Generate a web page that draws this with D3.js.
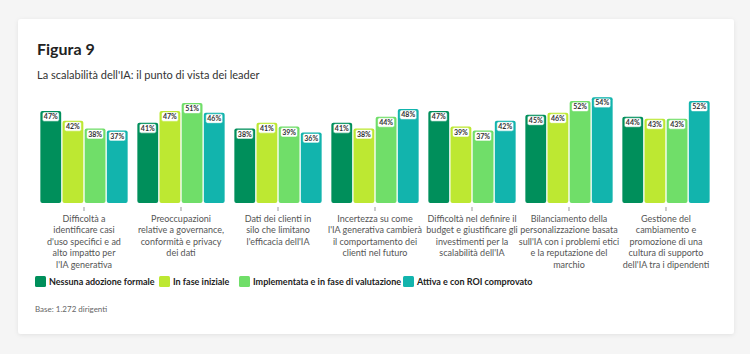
<!DOCTYPE html>
<html>
<head>
<meta charset="utf-8">
<script src="https://cdn.jsdelivr.net/npm/d3@7"></script>
<style>
  body { margin: 0; background: #f5f5f5; font-family: Lato, "Open Sans", sans-serif; }
  svg { display: block; }
</style>
</head>
<body>
<svg id="chart" width="750" height="354"></svg>
<script>
// data
var categories = [
  ["Difficoltà a", "identificare casi", "d'uso specifici e ad", "alto impatto per", "l'IA generativa"],
  ["Preoccupazioni", "relative a governance,", "conformità e privacy", "dei dati"],
  ["Dati dei clienti in", "silo che limitano", "l'efficacia dell'IA"],
  ["Incertezza su come", "l'IA generativa cambierà", "il comportamento dei", "clienti nel futuro"],
  ["Difficoltà nel definire il", "budget e giustificare gli", "investimenti per la", "scalabilità dell'IA"],
  ["Bilanciamento della", "personalizzazione basata", "sull'IA con i problemi etici", "e la reputazione del", "marchio"],
  ["Gestione del", "cambiamento e", "promozione di una", "cultura di supporto", "dell'IA tra i dipendenti"]
];
var seriesNames = ["Nessuna adozione formale", "In fase iniziale", "Implementata e in fase di valutazione", "Attiva e con ROI comprovato"];
var seriesColors = ["#008f5b", "#bde832", "#70de69", "#12b4ad"];
var nessuna     = [47, 41, 38, 41, 47, 45, 44];
var inizale     = [42, 47, 41, 38, 39, 46, 43];
var implementata = [38, 51, 39, 44, 37, 52, 43];
var attiva      = [37, 46, 36, 48, 42, 54, 52];
var values = [nessuna, inizale, implementata, attiva];

var svg = d3.select("#chart");

// card
svg.append("defs").append("filter").attr("id", "sh")
  .attr("x", "-5%").attr("y", "-5%").attr("width", "110%").attr("height", "110%")
  .append("feDropShadow").attr("dx", 0).attr("dy", 1).attr("stdDeviation", 2)
  .attr("flood-color", "#000").attr("flood-opacity", 0.08);
svg.append("rect").attr("x", 18).attr("y", 19).attr("width", 716).attr("height", 315)
  .attr("rx", 3).attr("fill", "#fff").attr("filter", "url(#sh)");

svg.append("text").attr("x", 37).attr("y", 55).text("Figura 9")
  .attr("font-size", 16).attr("font-weight", 700).attr("fill", "#222");
svg.append("text").attr("x", 37).attr("y", 79).text("La scalabilità dell'IA: il punto di vista dei leader")
  .attr("font-size", 11).attr("fill", "#333");

var x0 = d3.scaleBand().domain(d3.range(categories.length))
  .range([35.5, 714.5]).paddingInner(0.1).paddingOuter(0.05);
var x1 = d3.scaleBand().domain(d3.range(seriesNames.length))
  .range([0, x0.bandwidth()]).paddingInner(0.06);
var y = d3.scaleLinear().domain([0, 100]).range([203, 7]);

var groups = svg.append("g").selectAll("g")
  .data(categories).enter().append("g")
  .attr("transform", function(d, i) { return "translate(" + x0(i) + ",0)"; });

groups.each(function(c, gi) {
  var g = d3.select(this);
  values.forEach(function(s, si) {
    var v = s[gi];
    var bx = x1(si), bw = x1.bandwidth();
    g.append("rect").attr("x", bx).attr("y", y(v))
      .attr("width", bw).attr("height", y(0) - y(v))
      .attr("rx", 2).attr("fill", seriesColors[si]);
    var lw = 17, lh = 9.5;
    g.append("rect").attr("x", bx + (bw - lw) / 2).attr("y", y(v) + 1)
      .attr("width", lw).attr("height", lh).attr("rx", 2)
      .attr("fill", "#fff").attr("stroke", seriesColors[si]).attr("stroke-opacity", 0.6).attr("stroke-width", 1);
    g.append("text").attr("x", bx + bw / 2).attr("y", y(v) + 1 + lh / 2)
      .attr("dy", "0.35em").attr("text-anchor", "middle")
      .attr("font-size", 7).attr("font-weight", 700).attr("fill", "#333")
      .text(v + "%");
  });
  var cx = x0.bandwidth() / 2;
  g.append("line").attr("x1", cx).attr("x2", cx).attr("y1", 207).attr("y2", 211)
    .attr("stroke", "#999").attr("stroke-width", 1);
  g.append("text").attr("text-anchor", "middle").attr("font-size", 9).attr("fill", "#555")
    .selectAll("tspan").data(c).enter().append("tspan")
    .attr("x", cx).attr("y", function(d, i) { return 222 + i * 11.4; })
    .text(function(d) { return d; });
});

// legend
var legX = [35, 159, 239, 403];
var leg = svg.append("g").selectAll("g").data(seriesNames).enter().append("g")
  .attr("transform", function(d, i) { return "translate(" + legX[i] + ",276)"; });
leg.append("rect").attr("width", 11).attr("height", 11).attr("rx", 1.5)
  .attr("fill", function(d, i) { return seriesColors[i]; });
leg.append("text").attr("x", 14).attr("y", 5.5).attr("dy", "0.35em")
  .attr("font-size", 9).attr("font-weight", 700).attr("fill", "#222")
  .text(function(d) { return d; });

svg.append("text").attr("x", 35).attr("y", 312).text("Base: 1.272 dirigenti")
  .attr("font-size", 8).attr("fill", "#666");
</script>
</body>
</html>
